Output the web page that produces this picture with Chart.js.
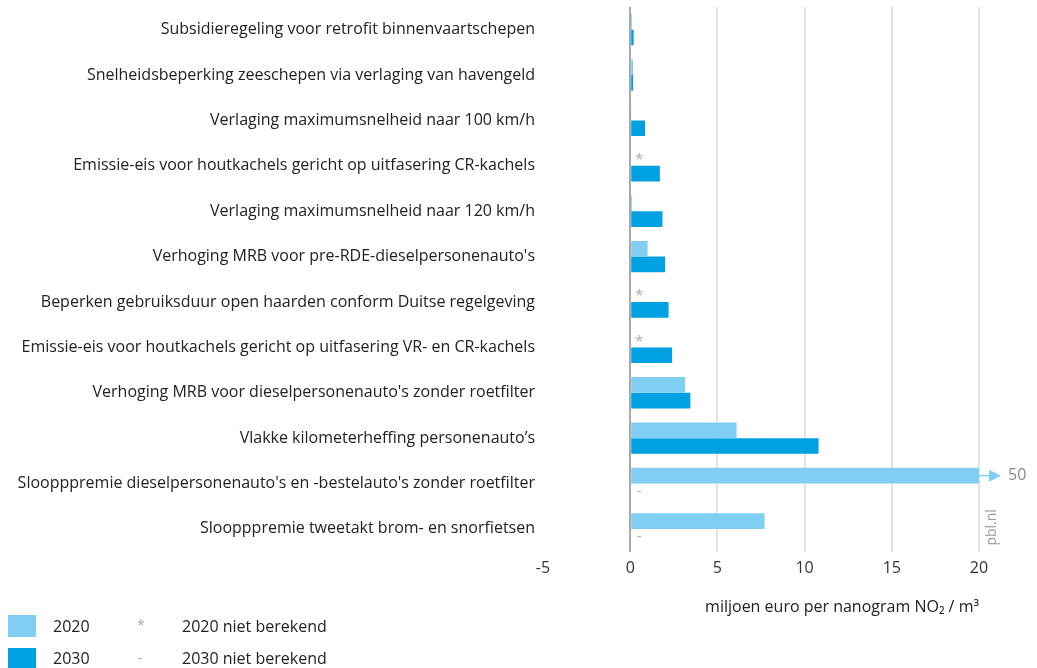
<!DOCTYPE html>
<html lang="nl">
<head>
  <meta charset="UTF-8" />
  <title>Kosteneffectiviteit maatregelen NO2</title>
  <script src="https://cdn.jsdelivr.net/npm/chart.js"></script>
  <style>
    body {
      margin: 0;
      background: #fff;
      font-family: "Open Sans", Arial, sans-serif;
      color: #222;
    }
    .wrap {
      position: relative;
      width: 1037px;
      height: 668px;
    }
    .legend div {
      position: absolute;
      font-size: 16px;
      line-height: 20px;
    }
    .swatch {
      width: 28px;
      height: 22px;
    }
    .mark { color: #aaa; font-size: 14px !important; }
  </style>
</head>
<body>
  <div class="wrap">
    <canvas id="chart" width="1037" height="668"></canvas>

    <!-- legend -->
    <div class="legend">
      <div class="swatch" style="left:8px; top:615px; background:#80cff3;"></div>
      <div style="left:53px; top:616px;">2020</div>
      <div class="mark" style="left:137px; top:615px;">*</div>
      <div style="left:182px; top:616px;">2020 niet berekend</div>

      <div class="swatch" style="left:8px; top:648px; background:#00a1e3;"></div>
      <div style="left:53px; top:648px;">2030</div>
      <div class="mark" style="left:138px; top:648px;">-</div>
      <div style="left:182px; top:648px;">2030 niet berekend</div>
    </div>
  </div>

  <script>
    const categories = [
      "Subsidieregeling voor retrofit binnenvaartschepen",
      "Snelheidsbeperking zeeschepen via verlaging van havengeld",
      "Verlaging maximumsnelheid naar 100 km/h",
      "Emissie-eis voor houtkachels gericht op uitfasering CR-kachels",
      "Verlaging maximumsnelheid naar 120 km/h",
      "Verhoging MRB voor pre-RDE-dieselpersonenauto's",
      "Beperken gebruiksduur open haarden conform Duitse regelgeving",
      "Emissie-eis voor houtkachels gericht op uitfasering VR- en CR-kachels",
      "Verhoging MRB voor dieselpersonenauto's zonder roetfilter",
      "Vlakke kilometerheffing personenauto’s",
      "Sloopppremie dieselpersonenauto's en -bestelauto's zonder roetfilter",
      "Sloopppremie tweetakt brom- en snorfietsen"
    ];

    // null = niet berekend
    const values2020 = [0.1, 0.17, 0.05, null, 0.1, 1.0, null, null, 3.15, 6.1, 50, 7.7];
    const values2030 = [0.2, 0.17, 0.85, 1.7, 1.85, 2.0, 2.2, 2.4, 3.45, 10.8, null, null];

    const xTicks = [-5, 0, 5, 10, 15, 20];

    // draws * / - for missing values, the overflow arrow and the pbl.nl tag
    const extras = {
      id: 'extras',
      afterDatasetsDraw(chart) {
        const c = chart.ctx;
        const x = chart.scales.x;
        const area = chart.chartArea;
        const zero = x.getPixelForValue(0);
        c.save();
        c.textAlign = 'center';
        c.textBaseline = 'middle';
        c.fillStyle = '#aaa';
        c.font = '15px "Open Sans"';
        chart.data.datasets.forEach((ds, di) => {
          const meta = chart.getDatasetMeta(di);
          ds.data.forEach((v, i) => {
            if (v === null) {
              const y = meta.data[i].y;
              c.fillText(di === 0 ? '*' : '-', zero + 9, y + (di === 0 ? 2 : 0));
            }
          });
        });

        // values beyond the axis: arrow + value
        const meta0 = chart.getDatasetMeta(0);
        values2020.forEach((v, i) => {
          if (v !== null && v > x.max) {
            const y = meta0.data[i].y;
            c.strokeStyle = '#80cff3';
            c.fillStyle = '#80cff3';
            c.lineWidth = 1.5;
            c.beginPath();
            c.moveTo(area.right, y);
            c.lineTo(area.right + 14, y);
            c.stroke();
            c.beginPath();
            c.moveTo(area.right + 22, y);
            c.lineTo(area.right + 10, y - 6);
            c.lineTo(area.right + 10, y + 6);
            c.closePath();
            c.fill();
            c.fillStyle = '#888';
            c.textAlign = 'left';
            c.font = '16px "Open Sans"';
            c.fillText(String(v), area.right + 29, y);
          }
        });

        // source tag
        c.translate(area.right + 13, area.bottom - 6);
        c.rotate(-Math.PI / 2);
        c.fillStyle = '#999';
        c.textAlign = 'left';
        c.font = '14px "Open Sans"';
        c.fillText('pbl.nl', 0, 0);
        c.restore();
      }
    };

    new Chart(document.getElementById('chart'), {
      type: 'bar',
      data: {
        labels: categories,
        datasets: [
          {
            label: '2020',
            data: values2020,
            backgroundColor: '#80cff3'
          },
          {
            label: '2030',
            data: values2030,
            backgroundColor: '#00a1e3'
          }
        ]
      },
      options: {
        indexAxis: 'y',
        responsive: false,
        animation: false,
        events: [],
        categoryPercentage: 0.69,
        barPercentage: 1,
        layout: {
          padding: { top: 7, right: 58, bottom: 51, left: 0 }
        },
        plugins: {
          legend: { display: false },
          tooltip: { enabled: false }
        },
        scales: {
          x: {
            min: -5,
            max: 20,
            afterBuildTicks(axis) {
              axis.ticks = xTicks.map(v => ({ value: v }));
            },
            grid: {
              drawTicks: false,
              color: ctx => ctx.tick.value === 0 ? '#a9a9a9' : (ctx.tick.value === -5 ? 'rgba(0,0,0,0)' : '#e3e3e3'),
              lineWidth: 2
            },
            border: { display: false },
            ticks: {
              padding: 7,
              color: '#333',
              font: { family: 'Open Sans', size: 16 }
            },
            title: {
              display: true,
              align: 'end',
              text: 'miljoen euro per nanogram NO₂ / m³',
              color: '#222',
              font: { family: 'Open Sans', size: 16 },
              padding: { top: 13, bottom: 0 }
            }
          },
          y: {
            afterFit(axis) {
              axis.width = 543;
              axis.paddingTop = 0;
              axis.paddingBottom = 0;
            },
            grid: { display: false },
            border: { display: false },
            ticks: {
              padding: 0,
              color: '#222',
              font: { family: 'Open Sans', size: 16 }
            }
          }
        }
      },
      plugins: [extras]
    });
  </script>
</body>
</html>
